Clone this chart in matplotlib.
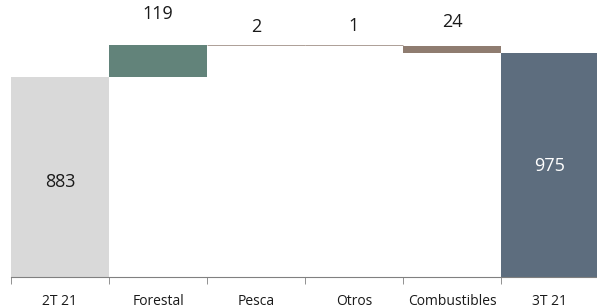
import matplotlib.pyplot as plt
import numpy as np

plt.rcParams['font.family'] = ['Open Sans', 'DejaVu Sans']

# datos del puente 2T 21 -> 3T 21
categorias = ['2T 21', 'Forestal', 'Pesca', 'Otros', 'Combustibles', '3T 21']
inicio = 883
variaciones = [119, 2, -1, -24]
etiquetas_var = ['119', '2', '1', '24']
final = 975

gris = '#d9d9d9'
verde = '#62837a'
cafe = '#8f7c70'
azul = '#5d6d7e'

fig = plt.figure(figsize=(5.97, 3.08), dpi=100)
ax = fig.add_axes([11/597, 31/308, 588/597, 277/308])

x = np.arange(len(categorias))
ax.bar(x[0], inicio, width=1.0, color=gris)
ax.bar(x[-1], final, width=1.0, color=azul)

# tramos intermedios
nivel = inicio
offsets = [22.7, 13, 13.6, 17.4]
for i, d in enumerate(variaciones):
    if i == len(variaciones) - 1:
        # el ultimo tramo se apoya en el total final
        base, alto = final, abs(d)
    else:
        base, alto = min(nivel, nivel + d), abs(d)
    col = verde if d > 10 else cafe
    if alto < 5:
        # tramos muy chicos: se ven como una linea
        ax.bar(x[i + 1], alto, bottom=base, width=1.0, color=col,
               edgecolor=col, linewidth=0.6, alpha=0.85)
    else:
        ax.bar(x[i + 1], alto, bottom=base, width=1.0, color=col)
    top = base + alto
    ax.annotate(etiquetas_var[i], (x[i + 1], top), xytext=(0, offsets[i]),
                textcoords='offset points', ha='center', va='center',
                fontsize=13, color='#1a1a1a')
    nivel = nivel + d

ax.text(x[0], 497, str(inicio), ha='center', va='center', fontsize=13, color='#1a1a1a')
ax.text(x[-1], 556, str(final), ha='center', va='center', fontsize=13, color='white')

ax.set_xlim(-0.5, 5.5)
ax.set_ylim(146, 1169)
ax.set_yticks([])
for s in ['top', 'right', 'left']:
    ax.spines[s].set_visible(False)
ax.spines['bottom'].set_color('#808080')

ax.set_xticks(x)
ax.set_xticklabels(categorias, fontsize=10, color='#1a1a1a')
ax.tick_params(axis='x', which='major', length=0, pad=12)
ax.set_xticks(np.arange(-0.5, 6, 1.0), minor=True)
ax.tick_params(axis='x', which='minor', length=5, color='#808080')

fig.savefig('out.png', dpi=100)
